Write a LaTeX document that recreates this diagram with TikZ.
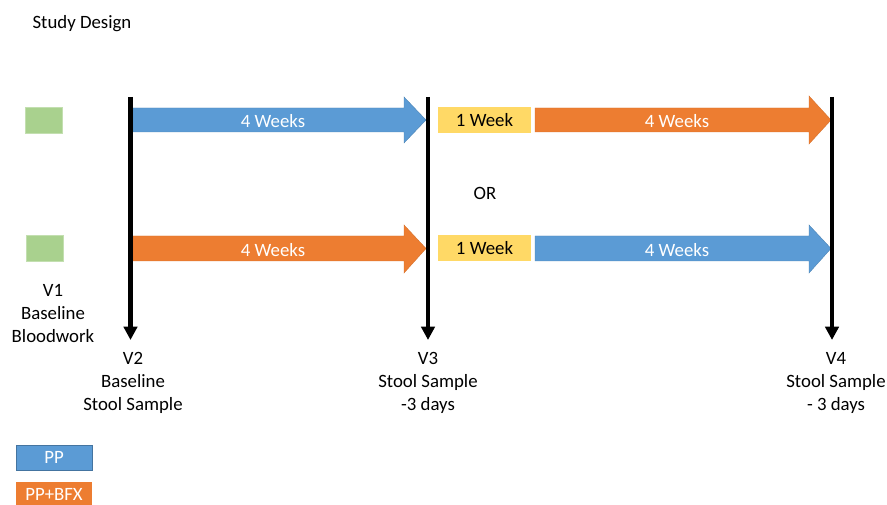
\documentclass[tikz,border=0pt]{standalone}
\usepackage{fontspec}
\setmainfont{Carlito}
\usetikzlibrary{arrows.meta}

\definecolor{ppblue}{HTML}{5B9BD5}
\definecolor{bfxorange}{HTML}{ED7D31}
\definecolor{weekyellow}{HTML}{FFD966}
\definecolor{visitgreen}{HTML}{A9D18E}

\tikzset{
    txt/.style={font=\fontsize{14.1}{17.2}\selectfont, inner sep=0pt},
    visit/.style={txt, align=center},
    timeline/.style={line width=3.4pt, -{Triangle[length=10pt,width=10pt]}},
    washbox/.style={txt, fill=weekyellow, minimum width=69.75pt, minimum height=19.5pt},
    greenbox/.style={fill=visitgreen, draw=visitgreen!70!white, minimum width=27.75pt, minimum height=19.5pt},
    legendbox/.style={txt, text=white, minimum width=57pt, minimum height=18.75pt},
}

\begin{document}
\begin{tikzpicture}[x=0.75pt, y=-0.75pt]

    % Page frame
    \useasboundingbox (0,0) rectangle (887,505);

    % Title
    \node[txt] (title) at (82,23.5) {Study Design};

    % V1 markers
    \node[greenbox] (g1) at (43.5,120) {};
    \node[greenbox] (g2) at (44.5,248) {};

    % Block arrows, first row
    \fill[ppblue, draw=ppblue!85!black, line width=0.3pt] (133,108) -- (404,108) -- (404,97) -- (426,120) -- (404,143) -- (404,132) -- (133,132) -- cycle;
    \node[txt, text=white] (w1) at (273,121.5) {4 Weeks};
    \node[washbox] (wash1) at (484.5,120) {1 Week};
    \fill[bfxorange, draw=bfxorange!90!black, line width=0.3pt] (535,108) -- (809,108) -- (809,96) -- (831,120) -- (809,144) -- (809,132) -- (535,132) -- cycle;
    \node[txt, text=white] (w2) at (677,121.5) {4 Weeks};

    \node[txt] (or) at (485,193.5) {OR};

    % Block arrows, second row
    \fill[bfxorange, draw=bfxorange!90!black, line width=0.3pt] (133,236) -- (404,236) -- (404,225) -- (426,248.5) -- (404,273) -- (404,261) -- (133,261) -- cycle;
    \node[txt, text=white] (w3) at (273,250) {4 Weeks};
    \node[washbox] (wash2) at (484.5,248.5) {1 Week};
    \fill[ppblue, draw=ppblue!85!black, line width=0.3pt] (535,236) -- (809,236) -- (809,225) -- (831,248.5) -- (809,273) -- (809,261) -- (535,261) -- cycle;
    \node[txt, text=white] (w4) at (677,250) {4 Weeks};

    % Visits
    \node[visit] (v1) at (53,313.5) {V1\\Baseline\\Bloodwork};
    \node[visit] (v2) at (133,383) {V2\\Baseline\\Stool Sample};
    \node[visit] (v3) at (428,383) {V3\\Stool Sample\\-3 days};
    \node[visit] (v4) at (836,383) {V4\\Stool Sample\\- 3 days};

    % Time lines
    \coordinate (t2) at (130.5,97);
    \coordinate (t3) at (428,97);
    \coordinate (t4) at (832,97);
    \draw[timeline] (t2) -- (t2 |- 0,340);
    \draw[timeline] (t3) -- (t3 |- 0,340);
    \draw[timeline] (t4) -- (t4 |- 0,340);

    % Legend
    \node[legendbox, fill=ppblue, draw=ppblue!75!black] (legpp) at (54,457.5) {PP};
    \node[legendbox, fill=bfxorange] (legbfx) at (54,494.5) {PP+BFX};

\end{tikzpicture}
\end{document}
